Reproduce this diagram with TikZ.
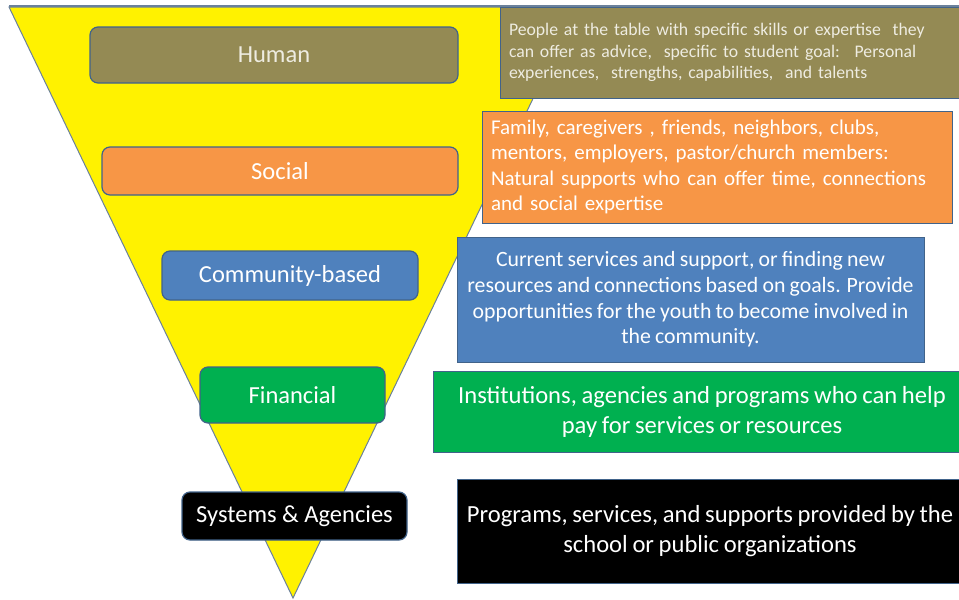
\documentclass[tikz,border=0pt]{standalone}
\usepackage{fontspec}
\setmainfont{Carlito}
\usepackage{tikz}
\definecolor{olivebox}{HTML}{948A54}
\definecolor{orangebox}{HTML}{F79646}
\definecolor{bluebox}{HTML}{4F81BD}
\definecolor{greenbox}{HTML}{00B050}
\definecolor{edgeblue}{HTML}{41638A}
\definecolor{triedge}{HTML}{6B819B}
\definecolor{lighttext}{HTML}{EEECE1}
\newcommand{\tightsp}{\spaceskip=0.19em\relax}

\begin{document}
\begin{tikzpicture}[x=1pt,y=-1pt]
\tikzstyle{level}=[rectangle,rounded corners=8pt,draw=edgeblue,line width=1.2pt,text=white,inner sep=0pt,font=\fontsize{24.5}{29}\selectfont]
\tikzstyle{info}=[rectangle,draw=edgeblue,line width=1pt,text=white,inner xsep=9pt,inner ysep=0pt]
\clip (0,0) rectangle (959,600);
% funnel
\draw[fill=yellow,draw=triedge,line width=1pt] (9,7) -- (577,7) -- (293,598) -- cycle;
\draw[triedge,line width=2pt] (9,6) -- (959,6);
% descriptions
\node[info,fill=olivebox,text=lighttext,minimum width=465,minimum height=91,text width=447,align=left,font=\fontsize{17.7}{21.5}\selectfont] (T_human) at (732.5,52.5)
 {People at the table with specific skills or expertise \ they\\can offer as advice, \ specific to student goal: \ Personal\\experiences, \ strengths, capabilities, \ and talents};
\node[info,fill=orangebox,minimum width=470,minimum height=112,text width=452,align=left,font=\fontsize{21}{25.3}\selectfont] (T_social) at (717,167)
 {Family, caregivers , friends, neighbors, clubs,\\mentors, employers, pastor/church members:\\Natural supports who can offer time, connections\\and social expertise};
\node[info,fill=bluebox,minimum width=467,minimum height=125,align=center,font=\fontsize{21.8}{25.7}\selectfont\tightsp] (T_community) at (690.5,299.5)
 {Current services and support, or finding new\\resources and connections based on goals. Provide\\opportunities for the youth to become involved in\\the community.};
\node[info,fill=greenbox,minimum width=538,minimum height=81,align=center,font=\fontsize{24.6}{30}\selectfont\tightsp] (T_financial) at (702,411.5)
 {Institutions, agencies and programs who can help\\pay for services or resources};
\node[info,fill=black,minimum width=506,minimum height=104,align=center,font=\fontsize{24.6}{30}\selectfont\tightsp] (T_systems) at (710,531)
 {Programs, services, and supports provided by the\\school or public organizations};
% levels
\node[level,fill=olivebox,text=lighttext,minimum width=368,minimum height=56] (L_human) at (274,55) {Human};
\node[level,fill=orangebox,minimum width=356,minimum height=48] (L_social) at (280,171) {Social};
\node[level,fill=bluebox,minimum width=256,minimum height=49] (L_community) at (290,275.5) {Community-based};
\node[level,fill=greenbox,minimum width=185,minimum height=56] (L_financial) at (292.5,395) {Financial};
\node[level,fill=black,minimum width=225,minimum height=48] (L_systems) at (294.5,516) {Systems \& Agencies};
\end{tikzpicture}
\end{document}
